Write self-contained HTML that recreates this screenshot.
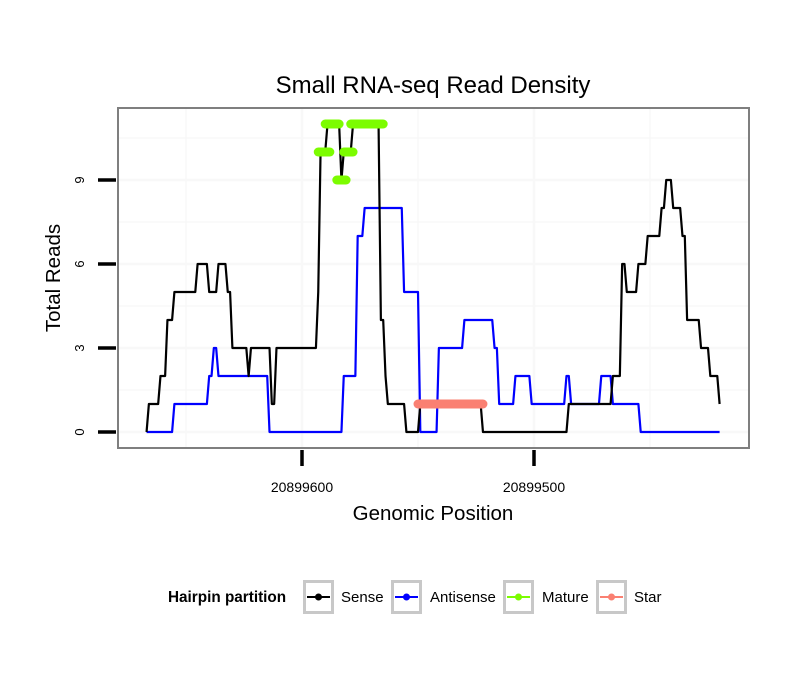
<!DOCTYPE html>
<html><head><meta charset="utf-8"><style>
body{margin:0;background:#fff;}
svg{display:block;font-family:"Liberation Sans",sans-serif;}
</style></head><body>
<svg id="chart" width="810" height="690">
<rect width="810" height="690" fill="#fff"/>
<text x="433" y="93" font-size="24" text-anchor="middle">Small RNA-seq Read Density</text>
<g id="grid"></g>
<g id="series"></g>
<rect x="118" y="108" width="631" height="340" fill="none" stroke="#7f7f7f" stroke-width="2"/>
<g id="axes"></g>
<text x="433" y="520" font-size="20.5" text-anchor="middle">Genomic Position</text>
<text x="0" y="0" font-size="20.5" text-anchor="middle" transform="translate(60,278) rotate(-90)">Total Reads</text>
<g id="legend">
<text x="168" y="602" font-size="15.3" font-weight="bold">Hairpin partition</text>
</g>
</svg>
<script>
const sensePos=[20899667,20899666,20899661,20899658,20899655,20899645,20899640,20899636,20899632,20899630,20899623,20899622,20899613,20899611,20899593,20899592,20899589,20899583,20899582,20899578,20899566,20899564,20899563,20899555,20899549,20899522,20899485,20899466,20899462,20899460,20899455,20899451,20899445,20899443,20899440,20899436,20899434,20899428,20899424,20899420];
const senseVals=[0,1,2,4,5,6,5,6,5,3,2,3,1,3,5,10,11,9,10,11,4,2,1,0,1,0,1,2,6,5,6,7,8,9,8,7,4,3,2,1];
const antiPos=[20899667,20899655,20899640,20899638,20899636,20899614,20899582,20899576,20899573,20899556,20899549,20899541,20899530,20899517,20899515,20899508,20899501,20899486,20899484,20899471,20899466,20899454];
const antiVals=[0,1,2,3,2,0,2,7,8,5,0,3,4,3,1,2,1,2,1,2,1,0];
const seriesEnd=20899420;
const matureFrom=[20899593,20899590,20899585,20899582,20899579];
const matureTo=[20899588,20899584,20899581,20899578,20899565];
const matureVals=[10,11,9,10,11];
const starFrom=[20899550];
const starTo=[20899522];
const starVals=[1];
const yTicks=[0,3,6,9];
const xTicks=[20899600,20899500];
const xTickLabels=["20899600","20899500"];
const legendLabels=["Sense","Antisense","Mature","Star"];
const legendColors=["#000000","#0000ff","#7cfc00","#fa8072"];

const NS="http://www.w3.org/2000/svg";
function X(g){return 302+(20899600-g)*2.32;}
function Y(v){return 432-28*v;}
function mk(tag,attrs,parent){const e=document.createElementNS(NS,tag);for(const k in attrs)e.setAttribute(k,attrs[k]);parent.appendChild(e);return e;}
const grid=document.getElementById('grid'),series=document.getElementById('series'),axes=document.getElementById('axes'),legend=document.getElementById('legend');

for(let v=0;v<=11;v+=1.5){const l=mk('line',{x1:119,x2:748,y1:Y(v),y2:Y(v),stroke:'#f8f8f8','stroke-width':v%3===0?2.5:1.5},grid);

}
[20899650,20899600,20899550,20899500,20899450].forEach(g=>{const l=mk('line',{x1:X(g),x2:X(g),y1:109,y2:447,stroke:'#f8f8f8','stroke-width':g%100===0?2.5:1.5},grid);

});

function stepPoints(pos,vals){const pts=[];for(let i=0;i<pos.length;i++){const end=i+1<pos.length?pos[i+1]+1:seriesEnd;for(let g=pos[i];g>=end;g--)pts.push(X(g).toFixed(2)+','+Y(vals[i]).toFixed(2));}return pts.join(' ');}
const anti=mk('polyline',{points:stepPoints(antiPos,antiVals),fill:'none',stroke:'#0000ff','stroke-width':2.2,'stroke-linejoin':'round'},series);


const sense=mk('polyline',{points:stepPoints(sensePos,senseVals),fill:'none',stroke:'#000','stroke-width':2.2,'stroke-linejoin':'round'},series);


for(let i=0;i<matureVals.length;i++){const s=mk('line',{x1:X(matureFrom[i]),x2:X(matureTo[i]),y1:Y(matureVals[i]),y2:Y(matureVals[i]),stroke:'#7cfc00','stroke-width':9,'stroke-linecap':'round'},series);

}
for(let i=0;i<starVals.length;i++){const s=mk('line',{x1:X(starFrom[i]),x2:X(starTo[i]),y1:Y(starVals[i]),y2:Y(starVals[i]),stroke:'#fa8072','stroke-width':9,'stroke-linecap':'round'},series);

}

yTicks.forEach(v=>{const t=mk('line',{x1:98,x2:116,y1:Y(v),y2:Y(v),stroke:'#000','stroke-width':3.5},axes);


const l=mk('text',{transform:`translate(${84},${Y(v)}) rotate(-90)`,'font-size':13,'text-anchor':'middle'},axes);l.textContent=String(v);

});
xTicks.forEach((g,i)=>{const t=mk('line',{x1:X(g),x2:X(g),y1:450,y2:466,stroke:'#000','stroke-width':3.5},axes);


const l=mk('text',{x:X(g),y:492,'font-size':14,'text-anchor':'middle'},axes);l.textContent=xTickLabels[i];

});

const boxX=[303,391,503,596],textX=[341,430,542,634];
legendLabels.forEach((lab,i)=>{const g=mk('g',{},legend);


mk('rect',{x:boxX[i]+1.5,y:581.5,width:28,height:31,fill:'#fff',stroke:'#c8c8c8','stroke-width':3},g);
mk('line',{x1:boxX[i]+4,x2:boxX[i]+27,y1:597,y2:597,stroke:legendColors[i],'stroke-width':2},g);
mk('circle',{cx:boxX[i]+15.5,cy:597,r:3.5,fill:legendColors[i]},g);
const t=mk('text',{x:textX[i],y:602,'font-size':15},g);t.textContent=lab;});
</script>
</body></html>
